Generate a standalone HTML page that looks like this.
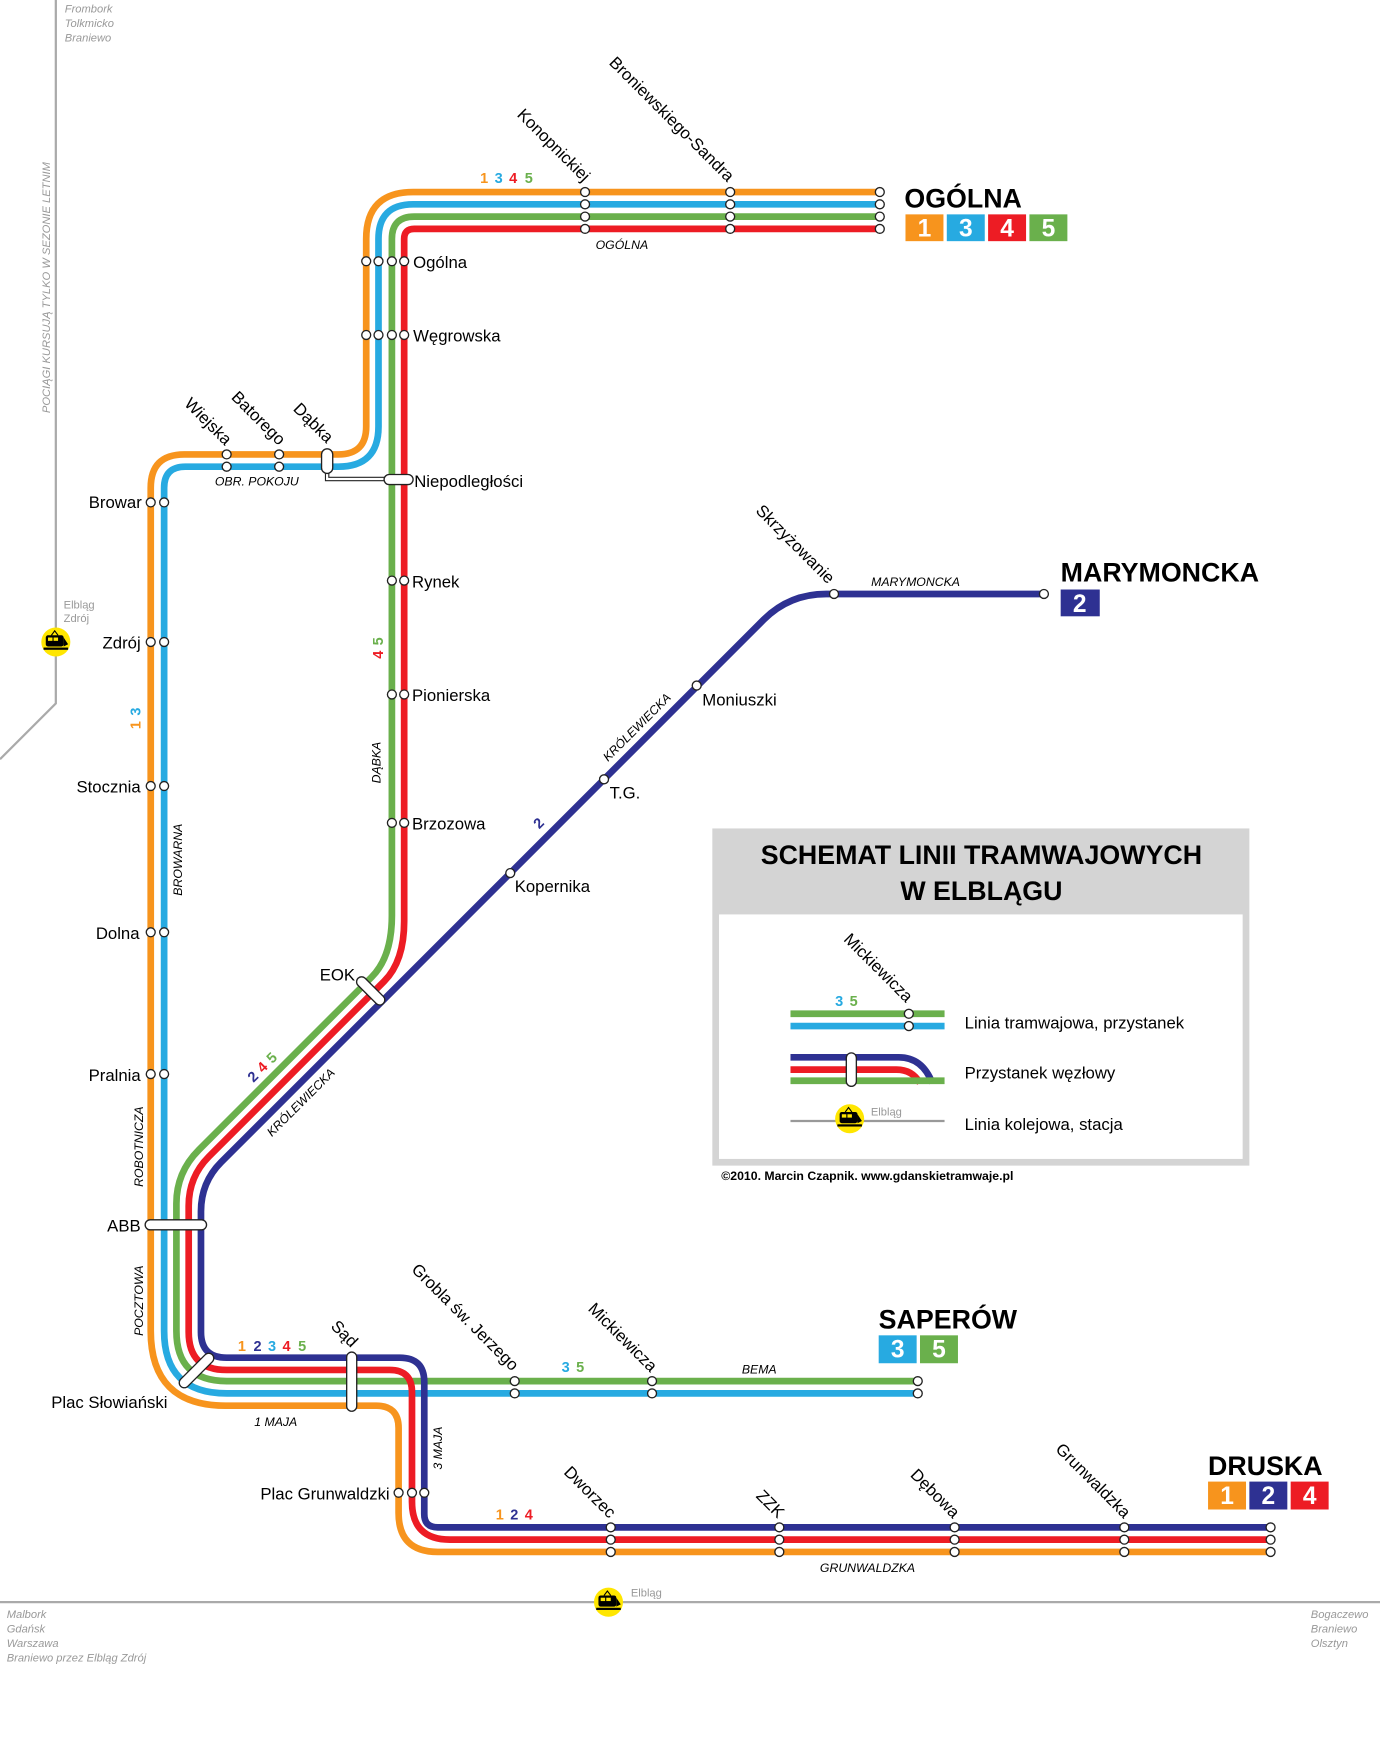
<!DOCTYPE html>
<html><head><meta charset="utf-8"><style>
html,body{margin:0;padding:0;background:#fff;}
svg{display:block;}
text{font-family:"Liberation Sans","Noto Sans CJK SC",sans-serif;}
.st{font-size:15px;fill:#000;}
.sl{font-size:11px;font-style:italic;fill:#000;}
.gr{font-size:10px;font-style:italic;fill:#999;}
.nb{font-size:13px;font-weight:bold;}
.ln{fill:none;stroke-width:6;stroke-linejoin:round;}
.stop{fill:#fff;stroke:#222;stroke-width:1.2;}
.big{font-size:24px;font-weight:bold;}
.bx{font-size:22px;font-weight:bold;fill:#fff;text-anchor:middle;}
</style></head><body>
<svg width="1380" height="1750" viewBox="0 0 1236 1567.4" xmlns="http://www.w3.org/2000/svg">
<rect width="1236" height="1567.4" fill="#fff"/>
<!-- railways -->
<path d="M50,0 L50,630 L0,680" fill="none" stroke="#aaa" stroke-width="2"/>
<line x1="0" y1="1435" x2="1236" y2="1435" stroke="#aaa" stroke-width="2"/>
<text class="gr" x="58" y="11">Frombork</text>
<text class="gr" x="58" y="24">Tolkmicko</text>
<text class="gr" x="58" y="37">Braniewo</text>
<text class="gr" transform="translate(45,370) rotate(-90)">POCIĄGI KURSUJĄ TYLKO W SEZONIE LETNIM</text>
<text x="57" y="545" font-size="10" fill="#999">Elbląg</text>
<text x="57" y="557" font-size="10" fill="#999">Zdrój</text>
<text x="565" y="1430" font-size="10" fill="#999">Elbląg</text>
<text class="gr" x="6" y="1449">Malbork</text>
<text class="gr" x="6" y="1462">Gdańsk</text>
<text class="gr" x="6" y="1475">Warszawa</text>
<text class="gr" x="6" y="1488">Braniewo przez Elbląg Zdrój</text>
<text class="gr" x="1174" y="1449">Bogaczewo</text>
<text class="gr" x="1174" y="1462">Braniewo</text>
<text class="gr" x="1174" y="1475">Olsztyn</text>
<defs>
<g id="train">
<circle r="13" fill="#ffe600"/>
<rect x="-9" y="-6" width="16" height="10" rx="2" fill="#000"/>
<rect x="-7" y="-4" width="4" height="3" fill="#ffe600"/>
<rect x="-2" y="-4" width="4" height="3" fill="#ffe600"/>
<path d="M7,-4 L11,2 L7,4Z" fill="#000"/>
<rect x="-11" y="5" width="22" height="2" fill="#000"/>
<path d="M-4,-6 L-1,-10 L2,-6" fill="none" stroke="#000" stroke-width="1"/>
</g>
</defs>
<use href="#train" x="50" y="575"/>
<use href="#train" x="545" y="1435"/>

<!-- lines: white halo -->
<g stroke="#fff" stroke-width="9" fill="none">
<path d="M788,172 L370,172 Q328,172 328,214 L328,382 Q328,407 303,407 L165,407 Q135,407 135,437 L135,1192 Q135,1259 202,1259 L337,1259 Q357,1259 357,1279 L357,1355 Q357,1390 392,1390 L1138,1390"/>
<path d="M788,183 L370,183 Q339,183 339,214 L339,382 Q339,418 303,418 L166,418 Q147,418 147,437 L147,1192 Q147,1248 203,1248 L822,1248"/>
<path d="M788,194 L371,194 Q351,194 351,214 L351,820 Q351,857 333,875 L178,1030 Q158,1050 158,1078 L158,1192 Q158,1237 203,1237 L822,1237"/>
<path d="M788,205 L371,205 Q362,205 362,214 L362,825 Q362,861 344,879 L187,1036 Q169,1054 169,1080 L169,1193 Q169,1227 203,1227 L349,1227 Q369,1227 369,1247 L369,1345 Q369,1379 403,1379 L1138,1379"/>
<path d="M935,532 L740,532 Q707,532 684,555 L198,1041 Q180,1059 180,1085 L180,1193 Q180,1216 203,1216 L358,1216 Q380,1216 380,1238 L380,1356 Q380,1368 392,1368 L1138,1368"/>
</g>
<path class="ln" stroke="#f7941d" d="M788,172 L370,172 Q328,172 328,214 L328,382 Q328,407 303,407 L165,407 Q135,407 135,437 L135,1192 Q135,1259 202,1259 L337,1259 Q357,1259 357,1279 L357,1355 Q357,1390 392,1390 L1138,1390"/>
<path class="ln" stroke="#27aae1" d="M788,183 L370,183 Q339,183 339,214 L339,382 Q339,418 303,418 L166,418 Q147,418 147,437 L147,1192 Q147,1248 203,1248 L822,1248"/>
<path class="ln" stroke="#6ab04c" d="M788,194 L371,194 Q351,194 351,214 L351,820 Q351,857 333,875 L178,1030 Q158,1050 158,1078 L158,1192 Q158,1237 203,1237 L822,1237"/>
<path class="ln" stroke="#ed1c24" d="M788,205 L371,205 Q362,205 362,214 L362,825 Q362,861 344,879 L187,1036 Q169,1054 169,1080 L169,1193 Q169,1227 203,1227 L349,1227 Q369,1227 369,1247 L369,1345 Q369,1379 403,1379 L1138,1379"/>
<path class="ln" stroke="#2e3192" d="M935,532 L740,532 Q707,532 684,555 L198,1041 Q180,1059 180,1085 L180,1193 Q180,1216 203,1216 L358,1216 Q380,1216 380,1238 L380,1356 Q380,1368 392,1368 L1138,1368"/>

<!-- connector Dąbka - Niepodległości -->
<path d="M293,420 L293,429 L347,429" fill="none" stroke="#222" stroke-width="4"/>
<path d="M293,420 L293,429 L347,429" fill="none" stroke="#fff" stroke-width="2"/>

<!-- stops -->
<g class="stop">
<circle cx="524" cy="172" r="4"/><circle cx="524" cy="183" r="4"/><circle cx="524" cy="194" r="4"/><circle cx="524" cy="205" r="4"/>
<circle cx="654" cy="172" r="4"/><circle cx="654" cy="183" r="4"/><circle cx="654" cy="194" r="4"/><circle cx="654" cy="205" r="4"/>
<circle cx="788" cy="172" r="4"/><circle cx="788" cy="183" r="4"/><circle cx="788" cy="194" r="4"/><circle cx="788" cy="205" r="4"/>
<circle cx="328" cy="234" r="4"/><circle cx="339" cy="234" r="4"/><circle cx="351" cy="234" r="4"/><circle cx="362" cy="234" r="4"/>
<circle cx="328" cy="300" r="4"/><circle cx="339" cy="300" r="4"/><circle cx="351" cy="300" r="4"/><circle cx="362" cy="300" r="4"/>
<circle cx="203" cy="407" r="4"/><circle cx="203" cy="418" r="4"/>
<circle cx="250" cy="407" r="4"/><circle cx="250" cy="418" r="4"/>
<rect x="288" y="402" width="10" height="22" rx="5"/>
<rect x="344" y="425" width="26" height="9" rx="4.5"/>
<circle cx="351" cy="520" r="4"/><circle cx="362" cy="520" r="4"/>
<circle cx="351" cy="622" r="4"/><circle cx="362" cy="622" r="4"/>
<circle cx="351" cy="737" r="4"/><circle cx="362" cy="737" r="4"/>
<circle cx="135" cy="450" r="4"/><circle cx="147" cy="450" r="4"/>
<circle cx="135" cy="575" r="4"/><circle cx="147" cy="575" r="4"/>
<circle cx="135" cy="704" r="4"/><circle cx="147" cy="704" r="4"/>
<circle cx="135" cy="835" r="4"/><circle cx="147" cy="835" r="4"/>
<circle cx="135" cy="962" r="4"/><circle cx="147" cy="962" r="4"/>
<rect x="130" y="1092.5" width="55" height="9" rx="4.5"/>
<rect x="316" y="883" width="32" height="9" rx="4.5" transform="rotate(45 332 887.5)"/>
<rect x="156" y="1223" width="40" height="9" rx="4.5" transform="rotate(-45 176 1227.5)"/>
<rect x="310.5" y="1211" width="9" height="53" rx="4.5"/>
<circle cx="357" cy="1337" r="4"/><circle cx="369" cy="1337" r="4"/><circle cx="380" cy="1337" r="4"/>
<circle cx="461" cy="1237" r="4"/><circle cx="461" cy="1248" r="4"/>
<circle cx="584" cy="1237" r="4"/><circle cx="584" cy="1248" r="4"/>
<circle cx="822" cy="1237" r="4"/><circle cx="822" cy="1248" r="4"/>
<circle cx="547" cy="1368" r="4"/><circle cx="547" cy="1379" r="4"/><circle cx="547" cy="1390" r="4"/>
<circle cx="698" cy="1368" r="4"/><circle cx="698" cy="1379" r="4"/><circle cx="698" cy="1390" r="4"/>
<circle cx="855" cy="1368" r="4"/><circle cx="855" cy="1379" r="4"/><circle cx="855" cy="1390" r="4"/>
<circle cx="1007" cy="1368" r="4"/><circle cx="1007" cy="1379" r="4"/><circle cx="1007" cy="1390" r="4"/>
<circle cx="1138" cy="1368" r="4"/><circle cx="1138" cy="1379" r="4"/><circle cx="1138" cy="1390" r="4"/>
<circle cx="747" cy="532" r="4"/><circle cx="935" cy="532" r="4"/>
<circle cx="624" cy="614" r="4"/><circle cx="541" cy="698" r="4"/><circle cx="457" cy="782" r="4"/>
</g>

<!-- station labels -->
<g class="st">
<text x="370" y="240">Ogólna</text>
<text x="370" y="306">Węgrowska</text>
<text x="371" y="436">Niepodległości</text>
<text x="369" y="526">Rynek</text>
<text x="369" y="628">Pionierska</text>
<text x="369" y="743">Brzozowa</text>
<text x="629" y="632">Moniuszki</text>
<text x="546" y="715">T.G.</text>
<text x="461" y="799">Kopernika</text>
<g text-anchor="end">
<text x="318" y="878">EOK</text>
<text x="127" y="455">Browar</text>
<text x="126" y="581">Zdrój</text>
<text x="126" y="710">Stocznia</text>
<text x="125" y="841">Dolna</text>
<text x="126" y="968">Pralnia</text>
<text x="126" y="1103">ABB</text>
<text x="150" y="1261">Plac Słowiański</text>
<text x="349" y="1343">Plac Grunwaldzki</text>
<text transform="translate(526,160) rotate(45)" y="5">Konopnickiej</text>
<text transform="translate(655,160) rotate(45)" y="5">Broniewskiego-Sandra</text>
<text transform="translate(205,396) rotate(45)" y="5">Wiejska</text>
<text transform="translate(253,396) rotate(45)" y="5">Batorego</text>
<text transform="translate(296,394) rotate(45)" y="5">Dąbka</text>
<text transform="translate(745,520) rotate(45)" y="5">Skrzyżowanie</text>
<text transform="translate(462,1225) rotate(45)" y="5">Grobla św. Jerzego</text>
<text transform="translate(586,1226) rotate(45)" y="5">Mickiewicza</text>
<text transform="translate(318,1204) rotate(45)" y="5">Sąd</text>
<text transform="translate(549,1357) rotate(45)" y="5">Dworzec</text>
<text transform="translate(700,1357) rotate(45)" y="5">ZZK</text>
<text transform="translate(857,1357) rotate(45)" y="5">Dębowa</text>
<text transform="translate(1010,1357) rotate(45)" y="5">Grunwaldzka</text>
</g>
</g>

<!-- street labels -->
<g class="sl">
<text x="557" y="223" text-anchor="middle">OGÓLNA</text>
<text x="230" y="435" text-anchor="middle">OBR. POKOJU</text>
<text x="820" y="525" text-anchor="middle">MARYMONCKA</text>
<text transform="translate(341,683) rotate(-90)" text-anchor="middle">DĄBKA</text>
<text transform="translate(163,770) rotate(-90)" text-anchor="middle">BROWARNA</text>
<text transform="translate(128,1027) rotate(-90)" text-anchor="middle">ROBOTNICZA</text>
<text transform="translate(128,1165) rotate(-90)" text-anchor="middle">POCZTOWA</text>
<text transform="translate(573,654) rotate(-45)" text-anchor="middle">KRÓLEWIECKA</text>
<text transform="translate(272,990) rotate(-45)" text-anchor="middle">KRÓLEWIECKA</text>
<text x="247" y="1277" text-anchor="middle">1 MAJA</text>
<text transform="translate(396,1297) rotate(-90)" text-anchor="middle">3 MAJA</text>
<text x="680" y="1230" text-anchor="middle">BEMA</text>
<text x="777" y="1408" text-anchor="middle">GRUNWALDZKA</text>
</g>

<!-- line number labels -->
<g class="nb">
<text x="430" y="164" fill="#f7941d">1</text><text x="443" y="164" fill="#27aae1">3</text><text x="456" y="164" fill="#ed1c24">4</text><text x="470" y="164" fill="#6ab04c">5</text>
<text x="213" y="1210" fill="#f7941d">1</text><text x="227" y="1210" fill="#2e3192">2</text><text x="240" y="1210" fill="#27aae1">3</text><text x="253" y="1210" fill="#ed1c24">4</text><text x="267" y="1210" fill="#6ab04c">5</text>
<text x="503" y="1229" fill="#27aae1">3</text><text x="516" y="1229" fill="#6ab04c">5</text>
<text x="444" y="1361" fill="#f7941d">1</text><text x="457" y="1361" fill="#2e3192">2</text><text x="470" y="1361" fill="#ed1c24">4</text>
<g transform="translate(227,970) rotate(-45)"><text x="0" y="0" fill="#2e3192">2</text><text x="12" y="0" fill="#ed1c24">4</text><text x="24" y="0" fill="#6ab04c">5</text></g>
<g transform="translate(343,590) rotate(-90)"><text x="0" y="0" fill="#ed1c24">4</text><text x="12" y="0" fill="#6ab04c">5</text></g>
<g transform="translate(126,653) rotate(-90)"><text x="0" y="0" fill="#f7941d">1</text><text x="12" y="0" fill="#27aae1">3</text></g>
<text transform="translate(483,743) rotate(-45)" fill="#2e3192">2</text>
</g>

<!-- terminus boxes -->
<text class="big" x="810" y="186">OGÓLNA</text>
<rect x="811" y="192" width="34" height="24" fill="#f7941d"/><text class="bx" x="828" y="212">1</text>
<rect x="848" y="192" width="34" height="24" fill="#27aae1"/><text class="bx" x="865" y="212">3</text>
<rect x="885" y="192" width="34" height="24" fill="#ed1c24"/><text class="bx" x="902" y="212">4</text>
<rect x="922" y="192" width="34" height="24" fill="#6ab04c"/><text class="bx" x="939" y="212">5</text>
<text class="big" x="950" y="521">MARYMONCKA</text>
<rect x="950" y="528" width="35" height="24" fill="#2e3192"/><text class="bx" x="967" y="548">2</text>
<text class="big" x="787" y="1190">SAPERÓW</text>
<rect x="787" y="1196" width="34" height="25" fill="#27aae1"/><text class="bx" x="804" y="1216">3</text>
<rect x="824" y="1196" width="34" height="25" fill="#6ab04c"/><text class="bx" x="841" y="1216">5</text>
<text class="big" x="1082" y="1321">DRUSKA</text>
<rect x="1082" y="1327" width="34" height="25" fill="#f7941d"/><text class="bx" x="1099" y="1347">1</text>
<rect x="1119" y="1327" width="34" height="25" fill="#2e3192"/><text class="bx" x="1136" y="1347">2</text>
<rect x="1156" y="1327" width="34" height="25" fill="#ed1c24"/><text class="bx" x="1173" y="1347">4</text>

<!-- legend -->
<rect x="638" y="742" width="481" height="302" fill="#d4d4d4"/>
<rect x="644" y="819" width="469" height="219" fill="#fff"/>
<text x="879" y="774" text-anchor="middle" font-size="24" font-weight="bold">SCHEMAT LINII TRAMWAJOWYCH</text>
<text x="879" y="806" text-anchor="middle" font-size="24" font-weight="bold">W ELBLĄGU</text>
<text x="646" y="1057" font-size="11" font-weight="bold">©2010. Marcin Czapnik. www.gdanskietramwaje.pl</text>
<line x1="708" y1="908" x2="846" y2="908" stroke="#6ab04c" stroke-width="6"/>
<line x1="708" y1="919" x2="846" y2="919" stroke="#27aae1" stroke-width="6"/>
<circle class="stop" cx="814" cy="908" r="4"/><circle class="stop" cx="814" cy="919" r="4"/>
<text class="nb" x="748" y="901" fill="#27aae1">3</text><text class="nb" x="761" y="901" fill="#6ab04c">5</text>
<text class="st" transform="translate(815,895) rotate(45)" y="5" text-anchor="end">Mickiewicza</text>
<path d="M708,947 L805,947 Q826,947 835,970" fill="none" stroke="#2e3192" stroke-width="6"/>
<path d="M708,958 L803,958 Q817,958 824,970" fill="none" stroke="#ed1c24" stroke-width="6"/>
<line x1="708" y1="968" x2="846" y2="968" stroke="#6ab04c" stroke-width="6"/>
<rect class="stop" x="758" y="943" width="9" height="30" rx="4.5"/>
<line x1="708" y1="1004" x2="846" y2="1004" stroke="#999" stroke-width="2"/>
<use href="#train" x="761" y="1002"/>
<text x="780" y="999" font-size="10" fill="#999">Elbląg</text>
<text class="st" x="864" y="921">Linia tramwajowa, przystanek</text>
<text class="st" x="864" y="966">Przystanek węzłowy</text>
<text class="st" x="864" y="1012">Linia kolejowa, stacja</text>
</svg>
</body></html>
